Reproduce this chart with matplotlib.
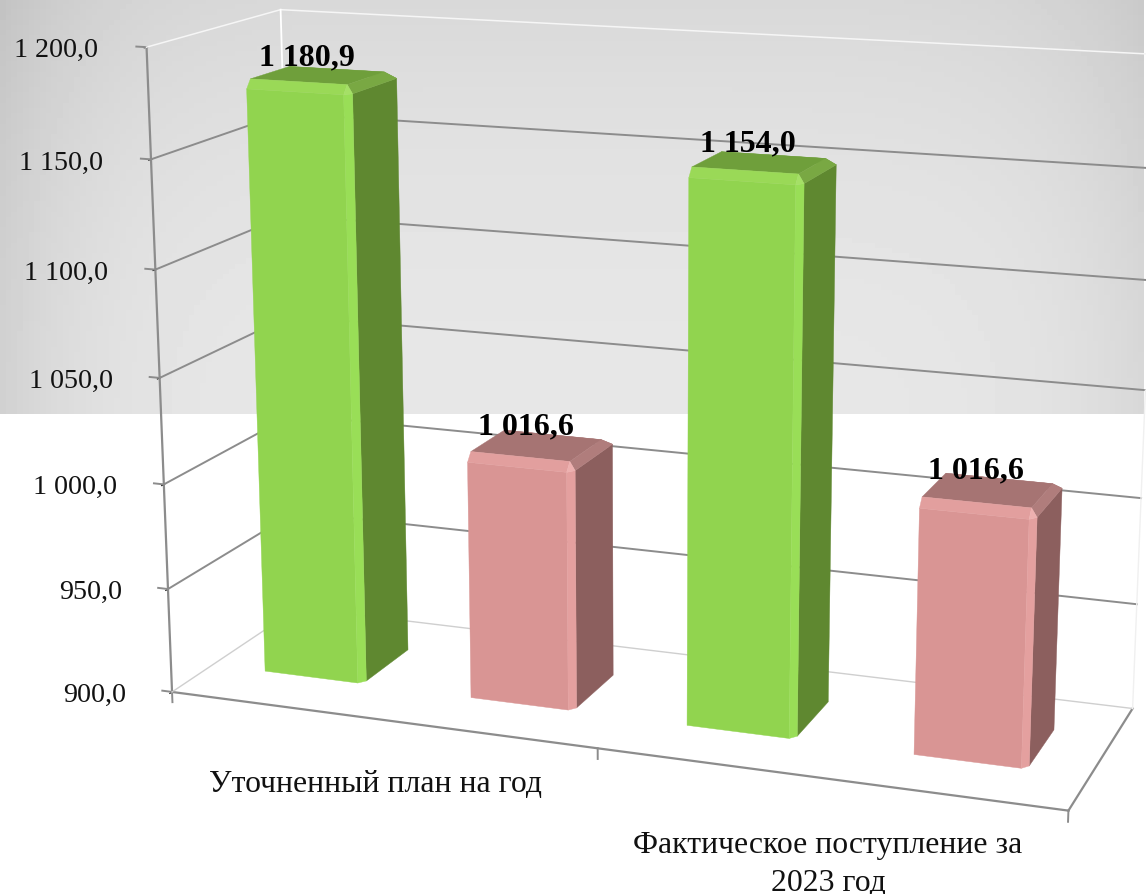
import numpy as np
import matplotlib

matplotlib.use("Agg")
import matplotlib.pyplot as plt
from matplotlib.ticker import FuncFormatter
from mpl_toolkits.mplot3d.art3d import Poly3DCollection

plt.rcParams["font.family"] = ["Liberation Serif", "DejaVu Serif"]

# data
categories = ["Уточненный план на год", "Фактическое поступление за\n2023 год"]
values = [1180.9, 1016.6, 1154.0, 1016.6]
value_labels = ["1 180,9", "1 016,6", "1 154,0", "1 016,6"]
z_ticks = [900, 950, 1000, 1050, 1100, 1150, 1200]

# bar footprint on the floor, x runs over the two categories
bar_left = [0.13, 0.63, 1.13, 1.63]
bar_width = 0.24
bar_front, bar_back = 0.31, 0.70
z_base = 900

GREEN = dict(front="#91d44f", strip="#99de57", side="#5f8830", top="#6f9f3b", back="#6f9f3b",
             bev_front="#9ad957", bev_side="#79a843", corner="#a5e066")
PINK = dict(front="#d99594", strip="#e4a09f", side="#8c5f5e", top="#a67473", back="#a67473",
            bev_front="#e29f9e", bev_side="#b07d7c", corner="#edb0af")
bar_colors = [GREEN, PINK, GREEN, PINK]
GRID = "#8c8c8c"

W, H = 1146, 895
fig = plt.figure(figsize=(W / 100, H / 100), dpi=100, facecolor="white")

# grey backdrop over the top part of the picture
bg = fig.add_axes([0, 1 - 415 / H, 1 - 2 / W, 415 / H], zorder=0)
u, v = np.meshgrid(np.linspace(0, 1, 200), np.linspace(0, 1, 80))
edge = np.where(u < 0.5, 0.085, 0.06) * np.abs(2 * u - 1) ** 6
shade = 0.905 - edge - 0.055 * v ** 2
bg.imshow(shade, cmap="gray", vmin=0, vmax=1, aspect="auto", origin="lower")
bg.axis("off")

# camera values fitted to the wall corners
elev, azim, focal = 14.37, -69.89, 0.5065
box = (1, 0.3105, 0.7107)
scale, cx, cy = 6259.1, 648.8, 385.0

ax = fig.add_axes([0, 0, 1, 1], projection="3d", computed_zorder=False, zorder=1)
ax.set_proj_type("persp", focal_length=focal)
ax.view_init(elev=elev, azim=azim)
ax.set_box_aspect(box)
x0, x1 = ax.viewLim.intervalx
y0, y1 = ax.viewLim.intervaly
ax.set_position([(cx + scale * x0) / W, (H - cy + scale * y0) / H,
                 scale * (x1 - x0) / W, scale * (y1 - y0) / H])
ax.set_xlim(0, 2)
ax.set_ylim(0, 1)
ax.set_zlim(900, 1200)
ax.patch.set_alpha(0)
ax.grid(False)
for axis in (ax.xaxis, ax.yaxis, ax.zaxis):
    axis.set_pane_color((1, 1, 1, 0))
    axis.pane.set_edgecolor("none")
    axis.line.set_color(GRID)
    axis.line.set_linewidth(1.6)
    axis.label.set_visible(False)
    axis.offsetText.set_visible(False)

ax.set_xticks([0, 1, 2])
ax.set_xticklabels([])
ax.set_yticks([])
ax.set_zticks(z_ticks)
ax.zaxis.set_major_formatter(FuncFormatter(
    lambda z, pos: f"{int(z // 1000)} {int(z % 1000):03d},0" if z >= 1000 else f"{z:.1f}".replace(".", ",")))
ax.zaxis.set_ticks_position("lower")
ax.tick_params(axis="both", width=0, color="none")
ax.tick_params(axis="z", labelsize=20.2, pad=13, colors="#111111", width=0)
for tick in ax.zaxis.get_major_ticks():
    tick.label1.set_ha("right")
    tick.label1.set_va("center_baseline")

# tick marks
for t in [0, 1, 2]:
    ax.plot([t, t], [0, 0], [900, 895], color=GRID, lw=1.4, zorder=1)
for z in z_ticks:
    ax.plot([-0.024, 0], [0, 0], [z, z], color=GRID, lw=1.4, zorder=1)

# walls: grid lines and edges
for z in z_ticks[1:-1]:
    ax.plot([0, 0, 2], [0, 1, 1], [z, z, z], color=GRID, lw=1.4, zorder=1)
ax.plot([0, 0, 2], [0, 1, 1], [900, 900, 900], color="#cfcfcf", lw=1.0, zorder=1)
ax.plot([0, 0, 2], [0, 1, 1], [1200, 1200, 1200], color="#f6f6f6", lw=1.1, zorder=1)
ax.plot([0, 0], [1, 1], [1050, 1200], color="white", lw=1.3, zorder=1)
ax.plot([0, 0], [1, 1], [900, 1050], color="#ececec", lw=1.0, zorder=1)
ax.plot([2, 2], [1, 1], [900, 1050], color="#f0f0f0", lw=1.0, zorder=1)


def bevel_polys(xa, xb, ya, yb, za, zb):
    # box with chamfered edges, only the faces the camera sees
    bx, by, bz = 0.012, 0.03, 4.0
    xm, ym, zm = xb - bx, ya + by, zb - bz
    yt, zk = yb - 0.06, zb - 4.0
    return {
        "front": [(xa, ya, za), (xm, ya, za), (xm, ya, zm), (xa, ya, zm)],
        "strip": [(xm, ya, za), (xb, ym, za), (xb, ym, zm), (xm, ya, zm)],
        "side": [(xb, ym, za), (xb, yb, za), (xb, yb, zk), (xb, ym, zm)],
        "bev_front": [(xa, ya, zm), (xm, ya, zm), (xm, ym, zb), (xa, ym, zb)],
        "bev_side": [(xb, ym, zm), (xb, yb, zk), (xm, yt, zb), (xm, ym, zb)],
        "corner": [(xm, ya, zm), (xb, ym, zm), (xm, ym, zb)],
        "top": [(xa, ym, zb), (xm, ym, zb), (xm, yt, zb), (xa, yt, zb)],
        "back": [(xa, yt, zb), (xm, yt, zb), (xb, yb, zk), (xa, yb, zk)],
    }


for i, (left, val, cols) in enumerate(zip(bar_left, values, bar_colors)):
    polys = bevel_polys(left, left + bar_width, bar_front, bar_back, z_base, val)
    names = list(polys)
    coll = Poly3DCollection([polys[n] for n in names], facecolors=[cols[n] for n in names],
                            edgecolors=[cols[n] for n in names], linewidths=0.3, zorder=3 + i)
    ax.add_collection3d(coll)
    ax.text(left + bar_width / 2 - 0.035, (bar_front + bar_back) / 2, val + 8, value_labels[i],
            ha="center", va="center", fontsize=23, fontweight="bold", color="black", zorder=10)

ax.text(0.486, 0, 868.5, categories[0], ha="center", va="center", fontsize=22.9, color="#111111")
ax.text(1.505, 0, 861, categories[1], ha="center", va="center", fontsize=22.9, color="#111111",
        linespacing=1.38)

fig.savefig("out.png", dpi=100)
